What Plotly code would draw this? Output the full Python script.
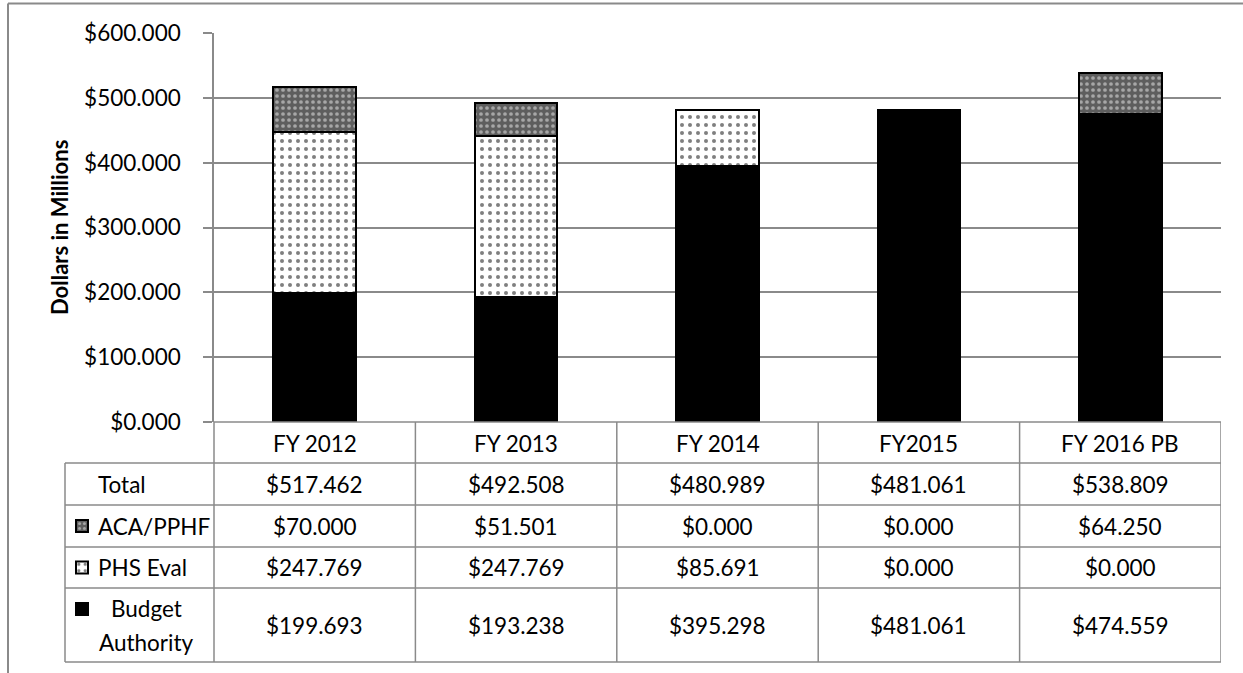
import plotly.graph_objects as go

categories = ["FY 2012", "FY 2013", "FY 2014", "FY2015", "FY 2016 PB"]
budget_authority = [199.693, 193.238, 395.298, 481.061, 474.559]
phs_eval = [247.769, 247.769, 85.691, 0.000, 0.000]
aca_pphf = [70.000, 51.501, 0.000, 0.000, 64.250]
y_ticks = [0, 100, 200, 300, 400, 500, 600]
y_ticktext = [f"${v:.3f}" for v in y_ticks]

W, H = 1243, 673
L, R, T, B = 214, 1221, 33, 422
FONT = "Lato"
FS = 22.5
GRID = "#8a8a8a"


def fx(px):
    return (px - L) / (R - L)


def fy(py):
    return (B - py) / (B - T)


fig = go.Figure()
idx = list(range(len(categories)))

fig.add_trace(go.Bar(
    x=idx, y=budget_authority, name=" ",
    marker=dict(color="black", line=dict(color="black", width=2)),
    legend="legend3",
))
fig.add_trace(go.Bar(
    x=idx, y=phs_eval, name=" ",
    marker=dict(color="white", line=dict(color="black", width=2),
                pattern=dict(shape=".", bgcolor="white", fgcolor="black",
                             size=8, solidity=0.2, fillmode="overlay")),
    legend="legend2",
))
fig.add_trace(go.Bar(
    x=idx, y=aca_pphf, name=" ",
    marker=dict(color="#5e5e5e", line=dict(color="black", width=2),
                pattern=dict(shape=".", bgcolor="#5e5e5e", fgcolor="#f0f0f0",
                             size=6, solidity=0.3, fillmode="overlay")),
    legend="legend",
))

shapes = []
ann = []

# outer border (top and left)
shapes.append(dict(type="line", xref="paper", yref="paper", x0=fx(8), x1=fx(1243),
                   y0=fy(3.5), y1=fy(3.5), line=dict(color=GRID, width=2)))
shapes.append(dict(type="line", xref="paper", yref="paper", x0=fx(8), x1=fx(8),
                   y0=fy(3.5), y1=fy(673), line=dict(color=GRID, width=2)))

row_lines = [463, 505, 547, 588, 662]
row_centers = {"header": 443, "total": 484.5, "aca": 526, "phs": 567.5, "ba": 625}

for yl in row_lines:
    shapes.append(dict(type="line", xref="paper", yref="paper", x0=fx(65), x1=fx(R),
                       y0=fy(yl), y1=fy(yl), line=dict(color=GRID, width=1.5)))
shapes.append(dict(type="line", xref="paper", yref="paper", x0=fx(65), x1=fx(65),
                   y0=fy(463), y1=fy(662), line=dict(color=GRID, width=1.5)))
shapes.append(dict(type="line", xref="paper", yref="paper", x0=0, x1=0,
                   y0=fy(B), y1=fy(662), line=dict(color=GRID, width=1.5)))
for i in range(len(categories)):
    shapes.append(dict(type="line", xref="x", yref="paper", x0=i + 0.5, x1=i + 0.5,
                       y0=fy(B), y1=fy(662), line=dict(color=GRID, width=1.5)))
shapes.append(dict(type="line", xref="paper", yref="paper", x0=0, x1=1, y0=0, y1=0,
                   line=dict(color=GRID, width=1.5)))

tfont = dict(family=FONT, size=FS, color="black")

totals = [b + p + a for b, p, a in zip(budget_authority, phs_eval, aca_pphf)]
for i, cat in enumerate(categories):
    ann.append(dict(x=i, xref="x", y=fy(row_centers["header"]), yref="paper",
                    xanchor="center", yanchor="middle",
                    text=cat, showarrow=False, font=tfont))
    for key, vals in (("total", totals), ("aca", aca_pphf), ("phs", phs_eval),
                      ("ba", budget_authority)):
        ann.append(dict(x=i, xref="x", y=fy(row_centers[key]), yref="paper",
                        xanchor="center", yanchor="middle",
                        text=f"${vals[i]:.3f}", showarrow=False, font=tfont))

for key, label in (("total", "Total"), ("aca", "ACA/PPHF"), ("phs", "PHS Eval")):
    ann.append(dict(x=fx(96), xref="paper", xanchor="left", y=fy(row_centers[key]),
                    yref="paper", yanchor="middle", text=label, showarrow=False,
                    font=tfont))
ann.append(dict(x=fx(146), xref="paper", xanchor="center", y=fy(608), yref="paper",
                yanchor="middle", text="Budget", showarrow=False, font=tfont))
ann.append(dict(x=fx(146), xref="paper", xanchor="center", y=fy(642), yref="paper",
                yanchor="middle", text="Authority", showarrow=False, font=tfont))

ann.append(dict(x=fx(60), xref="paper", xanchor="center", y=fy(228), yref="paper",
                yanchor="middle", text="<b>Dollars in Millions</b>", textangle=-90,
                showarrow=False, font=dict(family=FONT, size=22, color="black")))

leg_common = dict(xanchor="left", yanchor="middle", bgcolor="rgba(0,0,0,0)",
                  borderwidth=0, font=dict(family=FONT, size=12, color="black"),
                  itemclick=False, itemdoubleclick=False)

fig.update_layout(
    width=W, height=H,
    margin=dict(l=L, r=W - R, t=T, b=H - B, pad=0, autoexpand=False),
    paper_bgcolor="white", plot_bgcolor="white",
    barmode="stack", bargap=0.59,
    showlegend=True,
    legend=dict(x=fx(62), y=fy(526), **leg_common),
    legend2=dict(x=fx(62), y=fy(567.5), **leg_common),
    legend3=dict(x=fx(62), y=fy(609), **leg_common),
    xaxis=dict(range=[-0.5, len(categories) - 0.5], showticklabels=False, ticks="",
               showgrid=False, zeroline=False, showline=False, fixedrange=True),
    yaxis=dict(range=[0, 600], tickvals=y_ticks, ticktext=y_ticktext,
               showgrid=True, gridcolor=GRID, gridwidth=1.5, zeroline=False,
               showline=True, linecolor=GRID, linewidth=1.5, ticks="outside",
               ticklen=9, tickcolor=GRID, tickwidth=1.5, ticklabelstandoff=18,
               tickfont=dict(family=FONT, size=FS, color="black"), fixedrange=True),
    shapes=shapes, annotations=ann,
)

fig.write_html("out.html", config={"displayModeBar": False},
               post_script="document.body.style.margin='0px';"
                           "document.body.style.overflow='hidden';")
